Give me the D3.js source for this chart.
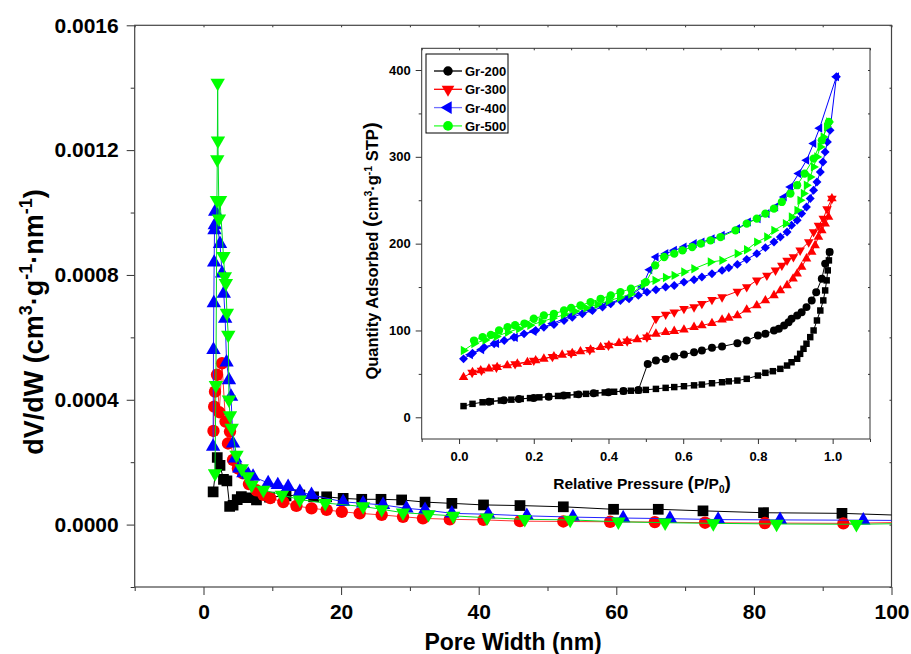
<!DOCTYPE html>
<html><head><meta charset="utf-8">
<script src="https://cdn.jsdelivr.net/npm/d3@7"></script>
<style>
body{margin:0;background:#fff}
text{font-family:"Liberation Sans",Arial,sans-serif;font-weight:bold;fill:#000}
</style>
</head><body><svg id="c" width="911" height="654"></svg>
<script>
// ---------------- MAIN PLOT DATA (pore size distribution) ----------------
const poreWidthGr200 = [1.4, 2.0, 2.4, 2.9, 3.4, 3.8, 4.3, 4.9, 5.5, 6.3, 7.7, 9.6, 12.0, 14.0, 16.0, 17.9, 20.3, 23.0, 25.8, 28.8, 32.2, 36.1, 40.7, 46.0, 52.3, 59.6, 66.1, 72.6, 81.4, 92.8, 108];
const dVdWGr200 = [0.000105, 0.000215, 0.00019, 0.000145, 0.00014, 0.000058, 0.000062, 0.00008, 0.00009, 0.000086, 0.000079, 0.000088, 0.000092, 0.000095, 0.000089, 0.000089, 0.000084, 0.000081, 0.000081, 0.000079, 0.000072, 0.000068, 0.000063, 0.000061, 0.000057, 0.000049, 0.000049, 0.000044, 0.000038, 0.000036, 0.000025];

const poreWidthGr300 = [1.45, 1.55, 1.67, 1.96, 2.3, 2.69, 3.2, 3.56, 3.85, 4.29, 5.0, 5.74, 6.6, 7.7, 8.7, 9.7, 11.6, 13.5, 15.7, 17.9, 20.1, 22.7, 25.9, 29.0, 31.9, 35.8, 40.7, 46.0, 52.3, 59.1, 65.6, 72.9, 81.6, 93.0, 108];
const dVdWGr300 = [0.0003, 0.000378, 0.000426, 0.00048, 0.00036, 0.000517, 0.00033, 0.00026, 0.000298, 0.000207, 0.00018, 0.000164, 0.00013, 0.00011, 0.000095, 0.000085, 0.000072, 0.00006, 0.000052, 0.000047, 0.000041, 0.000036, 0.000031, 0.000025, 0.00002, 0.000017, 0.000015, 0.000011, 0.00001, 0.000009, 0.000008, 0.000006, 0.000005, 0.000004, 0.000009];

const poreWidthGr400 = [1.40, 1.45, 1.50, 1.55, 1.60, 1.65, 1.70, 2.4, 2.7, 2.95, 3.15, 3.35, 3.7, 4.0, 4.3, 4.6, 5.2, 5.8, 6.5, 7.2, 9.4, 10.8, 12.3, 14.0, 15.7, 20.3, 23.2, 26.1, 29.5, 32.2, 36.1, 41.4, 47.0, 53.7, 61.0, 67.8, 74.8, 83.8, 95.9, 110];
const dVdWGr400 = [0.00025, 0.00056, 0.00071, 0.00084, 0.000944, 0.00096, 0.001003, 0.0009, 0.000805, 0.00074, 0.00066, 0.00052, 0.000463, 0.00041, 0.00026, 0.000212, 0.00018, 0.000165, 0.00016, 0.000154, 0.000133, 0.000127, 0.000121, 0.000105, 0.000095, 0.000073, 0.000068, 0.000063, 0.000052, 0.000047, 0.000036, 0.000033, 0.000028, 0.000024, 0.000021, 0.000019, 0.000016, 0.000015, 0.000014, 0.000012];

const poreWidthGr500 = [1.67, 1.8, 1.95, 2.0, 2.06, 2.1, 2.25, 2.4, 2.9, 3.1, 3.25, 3.4, 3.6, 3.7, 3.85, 4.1, 4.8, 5.55, 6.4, 7.0, 8.7, 11.4, 14.0, 17.7, 23.2, 25.9, 29.0, 32.7, 36.3, 41.2, 46.7, 53.3, 60.3, 67.1, 74.1, 83.3, 94.9, 110];
const dVdWGr500 = [0.000164, 0.000447, 0.00104, 0.00117, 0.001415, 0.00123, 0.00098, 0.00104, 0.00086, 0.000795, 0.000774, 0.000678, 0.000608, 0.0004, 0.00035, 0.00031, 0.000223, 0.00018, 0.000154, 0.000127, 0.000111, 0.000095, 0.00008, 0.000069, 0.000058, 0.000049, 0.000038, 0.000033, 0.000028, 0.000022, 0.000017, 0.000015, 0.000009, 0.000006, 0.000004, 0.000002, 0.000001, 0.000006];

const mainXTicks = [0, 20, 40, 60, 80, 100];
const mainXMinorTicks = [-10, 10, 30, 50, 70, 90];
const mainYTicks = [0, 0.0004, 0.0008, 0.0012, 0.0016];
const mainYMinorTicks = [-0.0002, 0.0002, 0.0006, 0.0010, 0.0014];

// ---------------- INSET DATA (N2 isotherms) ----------------
const adsPGr200 = [0.012, 0.036, 0.063, 0.085, 0.112, 0.14, 0.165, 0.19, 0.215, 0.24, 0.265, 0.29, 0.315, 0.34, 0.365, 0.39, 0.415, 0.44, 0.46, 0.48, 0.50, 0.527, 0.553, 0.576, 0.602, 0.629, 0.65, 0.677, 0.704, 0.722, 0.745, 0.77, 0.80, 0.82, 0.84, 0.86, 0.878, 0.89, 0.905, 0.913, 0.922, 0.93, 0.94, 0.949, 0.958, 0.967, 0.975, 0.98, 0.984, 0.987, 0.99, 0.992];
const adsQGr200 = [12.9, 15.5, 17.3, 18.3, 19.3, 20.3, 21.2, 22.1, 23.0, 23.8, 24.6, 25.4, 26.2, 27.0, 27.8, 28.6, 29.4, 30.1, 30.6, 31.0, 31.6, 32.7, 33.9, 34.8, 35.8, 36.8, 37.7, 39.2, 40.4, 41.4, 42.3, 44.3, 48.1, 51.2, 53.1, 55.8, 59.6, 63.4, 67.4, 73.1, 78.9, 84.7, 92.3, 100, 111.5, 123, 134.6, 146.1, 157.7, 169.2, 180.7, 190.3];
const desPGr200 = [0.992, 0.98, 0.971, 0.956, 0.944, 0.93, 0.917, 0.905, 0.89, 0.882, 0.87, 0.856, 0.843, 0.82, 0.80, 0.77, 0.745, 0.704, 0.677, 0.65, 0.629, 0.602, 0.576, 0.553, 0.527, 0.505, 0.48, 0.44, 0.40, 0.36, 0.32, 0.28, 0.24, 0.20, 0.16, 0.12, 0.08];
const desQGr200 = [190.3, 177, 159.6, 144, 134.6, 126.9, 121, 117.3, 113.5, 109.6, 105.8, 102, 100, 96.2, 94.2, 88.4, 85.4, 81.5, 80, 76.9, 75, 72.3, 70, 67.2, 65.4, 61.5, 31.5, 30.2, 28.8, 27.6, 26.4, 25.0, 23.6, 22.3, 21.0, 19.6, 18.0];

const adsPGr300 = [0.012, 0.036, 0.058, 0.08, 0.102, 0.129, 0.156, 0.183, 0.205, 0.227, 0.254, 0.276, 0.303, 0.325, 0.352, 0.379, 0.401, 0.428, 0.45, 0.477, 0.503, 0.527, 0.553, 0.576, 0.602, 0.629, 0.65, 0.677, 0.704, 0.722, 0.745, 0.77, 0.797, 0.82, 0.843, 0.86, 0.878, 0.894, 0.905, 0.917, 0.93, 0.944, 0.953, 0.962, 0.971, 0.98, 0.989, 0.998];
const adsQGr300 = [46.1, 51.9, 53.9, 55.8, 57.7, 59.6, 61.5, 63.4, 65.4, 67.3, 70, 71.9, 73.8, 75.8, 77.7, 80.7, 82.7, 85.4, 87.7, 89.6, 92.3, 96.1, 98, 99.2, 100.8, 103.8, 105.8, 108.4, 112.3, 114.5, 117.3, 123.9, 128.8, 134.6, 140.4, 146.1, 151.9, 159.6, 165.4, 173, 182.7, 190.3, 198, 207.6, 215.3, 223, 230.7, 251.9];
const desPGr300 = [0.998, 0.985, 0.975, 0.962, 0.949, 0.936, 0.913, 0.895, 0.878, 0.864, 0.847, 0.824, 0.797, 0.77, 0.745, 0.704, 0.677, 0.65, 0.629, 0.602, 0.576, 0.553, 0.527, 0.503, 0.45, 0.40, 0.35, 0.30, 0.25, 0.20, 0.15, 0.10, 0.06, 0.035];
const desQGr300 = [251.9, 240, 228.8, 221, 213.4, 201.8, 192.3, 184.6, 180.7, 174.9, 169.2, 163.4, 157.7, 150, 145, 138.4, 135.4, 130.8, 126.9, 125, 121.1, 118.4, 113.5, 92.3, 87.7, 82.7, 77.7, 73.8, 69.8, 65.4, 61.3, 57.5, 53.9, 51.5];

const adsPGr400 = [0.012, 0.036, 0.067, 0.094, 0.121, 0.147, 0.174, 0.205, 0.227, 0.254, 0.281, 0.303, 0.33, 0.357, 0.384, 0.406, 0.432, 0.455, 0.48, 0.503, 0.527, 0.553, 0.576, 0.602, 0.629, 0.65, 0.677, 0.704, 0.722, 0.745, 0.77, 0.797, 0.82, 0.843, 0.86, 0.878, 0.89, 0.905, 0.917, 0.93, 0.94, 0.949, 0.958, 0.967, 0.974, 0.98, 0.986, 0.993, 1.01];
const adsQGr400 = [67.3, 73.8, 80.7, 84.6, 88.4, 92.3, 96.1, 100, 103.8, 106.9, 111.5, 115.3, 119.2, 123, 126.9, 130.8, 134.6, 136.6, 140.4, 144.2, 147, 150, 151.9, 155.7, 158.5, 161.5, 165.4, 169.2, 172.3, 176.1, 181.9, 188.5, 195.4, 201.8, 207.6, 213.4, 221.1, 226.9, 234.6, 242.2, 251.9, 261.5, 271.1, 282.6, 294.1, 305.7, 317.2, 330.6, 392.2];
const desPGr400 = [1.01, 0.965, 0.949, 0.93, 0.909, 0.887, 0.87, 0.847, 0.824, 0.80, 0.774, 0.745, 0.704, 0.677, 0.65, 0.629, 0.602, 0.576, 0.553, 0.527, 0.51, 0.49, 0.45, 0.40, 0.35, 0.30, 0.25, 0.20, 0.15, 0.10, 0.06, 0.03];
const desQGr400 = [392.2, 333, 315.3, 296, 280.7, 265.3, 253.8, 242.2, 234.6, 228.8, 224.9, 217.3, 209.6, 205.7, 201.8, 200, 196, 192.3, 188.5, 184.6, 170, 150, 137.5, 131.5, 124, 117, 108, 99, 92, 85, 78, 72];

const adsPGr500 = [0.012, 0.04, 0.07, 0.10, 0.13, 0.16, 0.19, 0.22, 0.25, 0.28, 0.31, 0.34, 0.37, 0.40, 0.43, 0.46, 0.494, 0.525, 0.553, 0.576, 0.602, 0.629, 0.673, 0.704, 0.745, 0.77, 0.797, 0.824, 0.843, 0.874, 0.89, 0.905, 0.913, 0.922, 0.93, 0.94, 0.949, 0.958, 0.967, 0.975, 0.984, 0.99];
const adsQGr500 = [76.9, 85, 89, 93, 98, 102, 106, 110, 114, 118, 122, 126, 130, 134, 138, 142, 153, 157.7, 161, 163.4, 167.3, 171.1, 178.8, 180.7, 188.5, 193, 201.8, 207.6, 215.3, 223, 230.7, 238.4, 249.9, 257.7, 267.2, 276.8, 288.4, 299.9, 311.4, 322.9, 334.5, 340.2];
const desPGr500 = [0.99, 0.971, 0.949, 0.925, 0.905, 0.887, 0.864, 0.843, 0.82, 0.797, 0.77, 0.74, 0.70, 0.673, 0.647, 0.624, 0.598, 0.576, 0.549, 0.525, 0.50, 0.46, 0.432, 0.406, 0.379, 0.352, 0.325, 0.30, 0.281, 0.254, 0.227, 0.20, 0.175, 0.15, 0.13, 0.107, 0.085, 0.063, 0.04];
const desQGr500 = [340.2, 319, 298, 280.7, 267.3, 257.7, 248, 240.4, 234.6, 228.8, 223, 215.3, 207.6, 203.8, 200, 196.1, 192.3, 188.5, 184.6, 175, 155.7, 148.1, 144.2, 140.4, 136.5, 132.7, 128.8, 126.1, 123, 119.2, 117.3, 113.5, 108, 106, 103.8, 100, 95, 92.3, 88.4];

const insetXTicks = [0, 0.2, 0.4, 0.6, 0.8, 1.0];
const insetXMinorTicks = [-0.1, 0.1, 0.3, 0.5, 0.7, 0.9, 1.1];
const insetYTicks = [0, 100, 200, 300, 400];
const insetYMinorTicks = [50, 150, 250, 350];

const seriesNames = ["Gr-200", "Gr-300", "Gr-400", "Gr-500"];
const seriesColors = ["#000000", "#ff0000", "#0000ff", "#00ff00"];
const mainLineColors = ["#000000", "#ff3333", "#2222ff", "#00dd22"];
const legendLineColors = ["#000000", "#ff0000", "#7070ff", "#33ff33"];

// ---------------- DRAWING ----------------
const svg = d3.select("#c");
const FONT = '"Liberation Sans", Arial, sans-serif';

const shapeDefs = {
  square: [d3.symbolSquare, 0], circle: [d3.symbolCircle, 0],
  up: [d3.symbolTriangle, 0], down: [d3.symbolTriangle, 180],
  left: [d3.symbolTriangle, -90], right: [d3.symbolTriangle, 90],
  diamond: [d3.symbolSquare, 45]
};
function drawMarkers(g, xs, ys, xS, yS, shape, size, color) {
  const [t, rot] = shapeDefs[shape];
  const path = d3.symbol().type(t).size(size)();
  g.selectAll(null).data(xs.map((x, i) => [x, ys[i]])).enter().append("path")
    .attr("d", path)
    .attr("transform", d => `translate(${xS(d[0])},${yS(d[1])}) rotate(${rot})`)
    .attr("fill", color);
}
function drawLine(g, xs, ys, xS, yS, color, w) {
  g.append("path").datum(xs.map((x, i) => [x, ys[i]]))
    .attr("d", d3.line().x(d => xS(d[0])).y(d => yS(d[1])))
    .attr("fill", "none").attr("stroke", color).attr("stroke-width", w);
}
function styleAxis(g, fs) {
  g.select(".domain").remove();
  g.selectAll(".tick line").attr("stroke", "#333").attr("stroke-width", 1);
  g.selectAll("text").style("font-family", FONT).style("font-weight", "bold").style("font-size", fs + "px").attr("fill", "#000");
}

// ----- main plot -----
const L = 134.7, R = 891.5, T = 25.3, B = 587;
const x = d3.scaleLinear().domain([-10, 100]).range([L, R]);
const y = d3.scaleLinear().domain([-0.0002, 0.0016]).range([B, T]);

svg.append("defs").append("clipPath").attr("id", "mclip")
  .append("rect").attr("x", L).attr("y", T).attr("width", R - L).attr("height", B - T);

const gxb = svg.append("g").attr("transform", `translate(0,${B})`)
  .call(d3.axisBottom(x).tickValues(mainXTicks).tickSize(8).tickPadding(9).tickFormat(d3.format("d")));
styleAxis(gxb, 21);
const gxbm = svg.append("g").attr("transform", `translate(0,${B})`)
  .call(d3.axisBottom(x).tickValues(mainXMinorTicks).tickSize(4).tickFormat(""));
styleAxis(gxbm, 21);
const gyl = svg.append("g").attr("transform", `translate(${L},0)`)
  .call(d3.axisLeft(y).tickValues(mainYTicks).tickSize(8).tickPadding(8).tickFormat(d3.format(".4f")));
styleAxis(gyl, 21);
const gylm = svg.append("g").attr("transform", `translate(${L},0)`)
  .call(d3.axisLeft(y).tickValues(mainYMinorTicks).tickSize(4).tickFormat(""));
styleAxis(gylm, 21);
const gxt = svg.append("g").attr("transform", `translate(0,${T})`)
  .call(d3.axisBottom(x).tickValues(mainXTicks.concat(mainXMinorTicks)).tickSize(2).tickFormat(""));
styleAxis(gxt, 21);
const gyr = svg.append("g").attr("transform", `translate(${R},0)`)
  .call(d3.axisLeft(y).tickValues(mainYTicks.concat(mainYMinorTicks)).tickSize(2).tickFormat(""));
styleAxis(gyr, 21);
svg.append("rect").attr("x", L).attr("y", T).attr("width", R - L).attr("height", B - T)
  .attr("fill", "none").attr("stroke", "#444").attr("stroke-width", 1.2);

const mainX = [poreWidthGr200, poreWidthGr300, poreWidthGr400, poreWidthGr500];
const mainY = [dVdWGr200, dVdWGr300, dVdWGr400, dVdWGr500];
const mainShapes = ["square", "circle", "up", "down"];
const mainSizes = [115, 120, 90, 90];
const gm = svg.append("g").attr("clip-path", "url(#mclip)");
for (let i = 0; i < 4; i++) {
  const gs = gm.append("g");
  drawLine(gs, mainX[i], mainY[i], x, y, mainLineColors[i], 1);
  drawMarkers(gs, mainX[i], mainY[i], x, y, mainShapes[i], mainSizes[i], seriesColors[i]);
}

svg.append("text").attr("x", (L + R) / 2).attr("y", 650).attr("text-anchor", "middle")
  .style("font-size", "23px").text("Pore Width (nm)");
const yt = svg.append("text").attr("transform", "translate(43,322) rotate(-90)")
  .attr("text-anchor", "middle").style("font-size", "27px");
yt.append("tspan").text("dV/dW (cm");
yt.append("tspan").attr("dy", -11).style("font-size", "18px").text("3");
yt.append("tspan").attr("dy", 11).text("·g");
yt.append("tspan").attr("dy", -11).style("font-size", "18px").text("-1");
yt.append("tspan").attr("dy", 11).text("·nm");
yt.append("tspan").attr("dy", -11).style("font-size", "18px").text("-1");
yt.append("tspan").attr("dy", 11).text(")");

// ----- inset -----
const iL = 421.7, iR = 870, iT = 48.3, iB = 439;
const ix = d3.scaleLinear().domain([-0.1, 1.1]).range([iL, iR]);
const iy = d3.scaleLinear().domain([-25, 425]).range([iB, iT]);
svg.append("rect").attr("x", iL).attr("y", iT).attr("width", iR - iL).attr("height", iB - iT).attr("fill", "#fff");

const ixb = svg.append("g").attr("transform", `translate(0,${iB})`)
  .call(d3.axisBottom(ix).tickValues(insetXTicks).tickSize(5).tickPadding(8).tickFormat(d3.format(".1f")));
styleAxis(ixb, 13);
const ixbm = svg.append("g").attr("transform", `translate(0,${iB})`)
  .call(d3.axisBottom(ix).tickValues(insetXMinorTicks).tickSize(3).tickFormat(""));
styleAxis(ixbm, 13);
const iyl = svg.append("g").attr("transform", `translate(${iL},0)`)
  .call(d3.axisLeft(iy).tickValues(insetYTicks).tickSize(6).tickPadding(5).tickFormat(d3.format("d")));
styleAxis(iyl, 13);
const iylm = svg.append("g").attr("transform", `translate(${iL},0)`)
  .call(d3.axisLeft(iy).tickValues(insetYMinorTicks).tickSize(3).tickFormat(""));
styleAxis(iylm, 13);
const ixt = svg.append("g").attr("transform", `translate(0,${iT})`)
  .call(d3.axisBottom(ix).tickValues(insetXTicks.concat(insetXMinorTicks)).tickSize(2).tickFormat(""));
styleAxis(ixt, 13);
const iyr = svg.append("g").attr("transform", `translate(${iR},0)`)
  .call(d3.axisLeft(iy).tickValues(insetYTicks.concat(insetYMinorTicks)).tickSize(2).tickFormat(""));
styleAxis(iyr, 13);
svg.append("rect").attr("x", iL).attr("y", iT).attr("width", iR - iL).attr("height", iB - iT)
  .attr("fill", "none").attr("stroke", "#333").attr("stroke-width", 1);

const adsP = [adsPGr200, adsPGr300, adsPGr400, adsPGr500];
const adsQ = [adsQGr200, adsQGr300, adsQGr400, adsQGr500];
const desP = [desPGr200, desPGr300, desPGr400, desPGr500];
const desQ = [desQGr200, desQGr300, desQGr400, desQGr500];
const adsShapes = ["square", "up", "diamond", "right"];
const desShapes = ["circle", "down", "left", "circle"];
const adsSizes = [42, 40, 40, 38];
const desSizes = [50, 40, 36, 54];
const gi = svg.append("g");
for (let i = 0; i < 4; i++) {
  const gs = gi.append("g");
  drawLine(gs, adsP[i], adsQ[i], ix, iy, seriesColors[i], 1);
  drawLine(gs, desP[i], desQ[i], ix, iy, seriesColors[i], 1);
  drawMarkers(gs, adsP[i], adsQ[i], ix, iy, adsShapes[i], adsSizes[i], seriesColors[i]);
  drawMarkers(gs, desP[i], desQ[i], ix, iy, desShapes[i], desSizes[i], seriesColors[i]);
}

svg.append("text").attr("x", 642).attr("y", 489).attr("text-anchor", "middle").style("font-size", "15.5px")
  .call(t => {
    t.append("tspan").text("Relative Pressure ");
    t.append("tspan").style("font-size", "19px").text("(");
    t.append("tspan").text("P/P");
    t.append("tspan").attr("dy", 4).style("font-size", "10px").text("0");
    t.append("tspan").attr("dy", -4).style("font-size", "19px").text(")");
  });
svg.append("text").attr("transform", "translate(378,251) rotate(-90)").attr("text-anchor", "middle").style("font-size", "16.5px")
  .call(t => {
    t.append("tspan").text("Quantity Adsorbed ");
    t.append("tspan").style("font-size", "20px").text("(");
    t.append("tspan").text("cm");
    t.append("tspan").attr("dy", -6).style("font-size", "10.5px").text("3");
    t.append("tspan").attr("dy", 6).text("·g");
    t.append("tspan").attr("dy", -6).style("font-size", "10.5px").text("-1");
    t.append("tspan").attr("dy", 6).text(" STP");
    t.append("tspan").style("font-size", "20px").text(")");
  });

// legend
const lg = svg.append("g");
lg.append("rect").attr("x", 426).attr("y", 54).attr("width", 82).attr("height", 79)
  .attr("fill", "#fff").attr("stroke", "#000").attr("stroke-width", 1);
const legendShapes = ["circle", "down", "left", "circle"];
const legendSizes = [70, 70, 70, 75];
seriesNames.forEach((name, i) => {
  const yy = 71 + i * 18.3;
  lg.append("line").attr("x1", 434).attr("x2", 462).attr("y1", yy).attr("y2", yy)
    .attr("stroke", legendLineColors[i]).attr("stroke-width", 1.3);
  const [t, rot] = shapeDefs[legendShapes[i]];
  lg.append("path").attr("d", d3.symbol().type(t).size(legendSizes[i])())
    .attr("transform", `translate(448,${yy}) rotate(${rot})`).attr("fill", seriesColors[i]);
  lg.append("text").attr("x", 465).attr("y", yy + 5).style("font-size", "13px").text(name);
});
</script></body></html>
